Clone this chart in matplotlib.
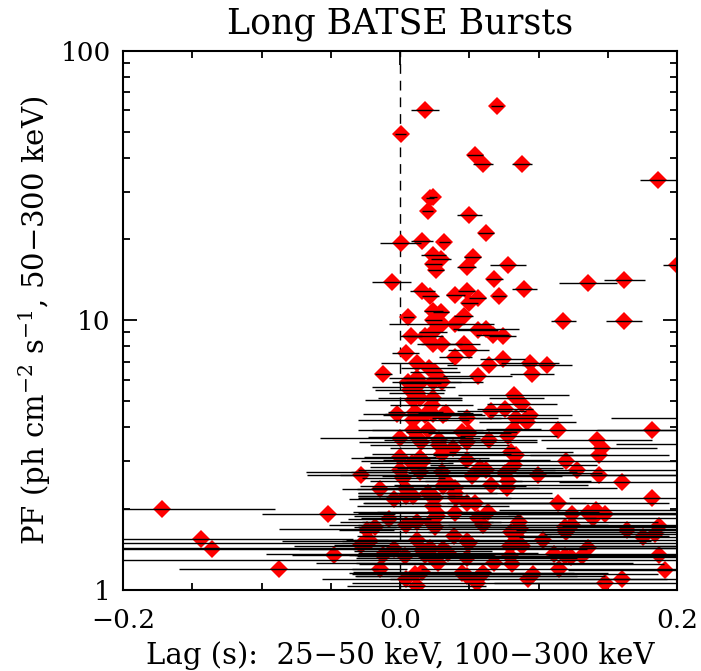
import matplotlib
matplotlib.use("Agg")
import matplotlib.pyplot as plt
from matplotlib.ticker import FixedLocator, LogLocator, NullFormatter

# Spectral lag (s) between 25-50 keV and 100-300 keV, its 1-sigma error,
# and the 50-300 keV peak flux (ph cm^-2 s^-1) for long BATSE bursts.
lag = [
    0.018, 0.070, 0.0005, 0.054, 0.060, 0.088, 0.186, 0.0217, 0.024, 0.020,
    0.050, 0.062, 0.0005, 0.016, 0.032, 0.024, 0.0296, 0.024, 0.026, 0.0525,
    0.048, 0.078, 0.200, -0.006, 0.016, 0.022, 0.040, 0.048, 0.056, 0.050,
    0.068, 0.0717, 0.0898, 0.136, 0.162, 0.118, 0.162, 0.006, 0.024, 0.0296,
    0.024, 0.030, 0.040, 0.046, 0.024, 0.008, 0.018, 0.056, 0.062, 0.067,
    0.074, 0.024, 0.030, 0.046, 0.0495, 0.004, 0.040, 0.074, 0.012, 0.064,
    0.094, 0.106, -0.012, 0.021, 0.025, 0.028, 0.024, 0.030, 0.056, 0.0955,
    0.006, 0.012, 0.0144, 0.0096, 0.0072, 0.012, 0.0144, 0.0096, 0.024, 0.023,
    0.082, 0.084, 0.088, 0.066, 0.0758, 0.094, 0.092, 0.084, -0.002, 0.011,
    0.0096, 0.024, 0.031, 0.033, 0.048, 0.114, 0.182, 0.082, 0.078, 0.0445,
    0.050, 0.0486, 0.0096, 0.012, 0.0155, 0.000, 0.0284, 0.0285, 0.038, 0.064,
    0.142, 0.1455, 0.144, 0.080, 0.0837, 0.030, 0.048, 0.000, 0.0144, 0.0084,
    0.0132, 0.082, 0.1195, 0.128, 0.1436, 0.160, 0.0999, 0.0578, 0.062, 0.0755,
    0.078, 0.077, 0.066, 0.0518, 0.000, 0.0024, 0.030, 0.033, 0.031, 0.040,
    0.0395, -0.0148, -0.004, 0.004, 0.0045, 0.0096, 0.020, 0.025, 0.0405, 0.048,
    0.054, 0.114, 0.182, 0.024, 0.026, 0.027, 0.0226, 0.025, 0.040, 0.0637,
    0.0565, 0.060, -0.0077, 0.004, 0.012, 0.124, 0.1244, 0.136, 0.1415, 0.1477,
    0.1393, 0.086, 0.0863, 0.0803, 0.084, 0.120, 0.119, 0.1637, 0.1757, 0.1838,
    0.187, 0.039, 0.048, 0.050, 0.012, 0.1035, 0.136, -0.004, -0.012, 0.0036,
    0.0165, 0.0215, 0.031, 0.0346, 0.0275, 0.025, 0.048, 0.0794, 0.088, 0.0794,
    0.0805, 0.068, 0.1115, 0.1188, 0.1236, 0.1316, 0.187, 0.115, 0.1915, -0.0148,
    0.016, 0.0445, 0.048, 0.0577, 0.060, 0.0553, 0.0927, 0.0963, 0.004, 0.012,
    0.148, 0.160, 0.0105, -0.0285, -0.0518, -0.018, -0.024, -0.0217, -0.028, -0.024,
    -0.048, -0.172, -0.144, -0.136, -0.0876, 0.0144, 0.0167, 0.0177, 0.020, 0.0177,
    0.240, 0.230,
]

lag_err = [
    0.010, 0.004, 0.004, 0.006, 0.007, 0.007, 0.013, 0.003, 0.003, 0.004,
    0.009, 0.006, 0.015, 0.008, 0.004, 0.009, 0.007, 0.006, 0.006, 0.006,
    0.007, 0.013, 0.010, 0.014, 0.009, 0.006, 0.007, 0.006, 0.006, 0.006,
    0.006, 0.005, 0.009, 0.021, 0.015, 0.009, 0.013, 0.004, 0.007, 0.006,
    0.006, 0.038, 0.006, 0.007, 0.010, 0.008, 0.013, 0.015, 0.024, 0.012,
    0.010, 0.012, 0.015, 0.012, 0.015, 0.010, 0.012, 0.016, 0.026, 0.030,
    0.021, 0.018, 0.006, 0.020, 0.018, 0.025, 0.020, 0.030, 0.025, 0.016,
    0.012, 0.020, 0.015, 0.030, 0.025, 0.020, 0.030, 0.035, 0.020, 0.030,
    0.040, 0.020, 0.025, 0.025, 0.020, 0.030, 0.035, 0.030, 0.025, 0.020,
    0.040, 0.035, 0.030, 0.020, 0.025, 0.100, 0.040, 0.020, 0.035, 0.040,
    0.030, 0.050, 0.040, 0.035, 0.045, 0.058, 0.040, 0.050, 0.045, 0.035,
    0.040, 0.040, 0.050, 0.045, 0.060, 0.050, 0.060, 0.026, 0.050, 0.030,
    0.035, 0.060, 0.085, 0.075, 0.060, 0.045, 0.143, 0.060, 0.050, 0.070,
    0.060, 0.080, 0.070, 0.065, 0.030, 0.030, 0.098, 0.055, 0.060, 0.060,
    0.070, 0.027, 0.033, 0.035, 0.035, 0.040, 0.050, 0.055, 0.070, 0.075,
    0.080, 0.080, 0.060, 0.055, 0.060, 0.060, 0.050, 0.055, 0.070, 0.080,
    0.085, 0.090, 0.030, 0.055, 0.055, 0.080, 0.090, 0.080, 0.070, 0.070,
    0.080, 0.100, 0.174, 0.110, 0.110, 0.100, 0.090, 0.080, 0.090, 0.080,
    0.070, 0.070, 0.133, 0.260, 0.045, 0.120, 0.100, 0.030, 0.025, 0.035,
    0.050, 0.230, 0.104, 0.065, 0.088, 0.230, 0.080, 0.156, 0.120, 0.110,
    0.110, 0.100, 0.208, 0.100, 0.110, 0.100, 0.080, 0.100, 0.070, 0.020,
    0.050, 0.081, 0.080, 0.090, 0.090, 0.090, 0.100, 0.090, 0.060, 0.050,
    0.080, 0.070, 0.045, 0.039, 0.048, 0.015, 0.020, 0.020, 0.020, 0.015,
    0.030, 0.082, 0.110, 0.090, 0.072, 0.050, 0.045, 0.030, 0.040, 0.050,
    0.088, 0.074,
]

peak_flux = [
    60.4, 62.2, 49.1, 40.9, 38.0, 38.0, 33.0, 28.5, 28.6, 25.4,
    24.5, 21.1, 19.3, 19.7, 19.5, 17.4, 16.8, 16.1, 15.3, 17.1,
    15.8, 16.0, 16.0, 13.8, 12.8, 12.3, 12.4, 12.8, 12.1, 11.6,
    14.2, 12.3, 13.1, 13.7, 14.1, 9.9, 9.9, 10.3, 10.8, 10.7,
    10.0, 9.7, 9.7, 10.4, 9.06, 8.7, 8.7, 9.2, 9.3, 8.8,
    8.7, 8.15, 8.15, 8.15, 7.75, 7.57, 7.31, 7.15, 6.95, 6.81,
    6.95, 6.81, 6.29, 6.63, 6.44, 6.08, 5.91, 5.91, 6.2, 6.29,
    5.91, 6.08, 5.83, 5.66, 5.49, 5.35, 5.13, 5.06, 5.13, 4.84,
    5.28, 5.13, 4.89, 4.61, 4.67, 4.45, 4.2, 4.32, 4.49, 4.57,
    4.26, 4.49, 4.45, 4.52, 4.32, 3.91, 3.90, 3.93, 3.72, 3.86,
    3.81, 3.54, 3.91, 3.69, 3.54, 3.65, 3.59, 3.44, 3.35, 3.59,
    3.59, 3.35, 3.16, 3.25, 3.16, 3.19, 3.03, 3.10, 3.07, 2.94,
    2.86, 2.90, 3.0, 2.77, 2.67, 2.5, 2.67, 2.82, 2.79, 2.7,
    2.52, 2.38, 2.45, 2.64, 2.78, 2.59, 2.74, 2.52, 2.43, 2.38,
    2.28, 2.36, 2.17, 2.36, 2.22, 2.22, 2.28, 2.19, 2.19, 2.09,
    2.09, 2.10, 2.19, 2.04, 1.95, 1.87, 1.78, 1.71, 1.92, 1.95,
    1.84, 1.74, 1.83, 1.74, 1.79, 1.91, 1.74, 1.92, 1.98, 1.91,
    1.84, 1.78, 1.68, 1.64, 1.58, 1.64, 1.71, 1.66, 1.57, 1.61,
    1.73, 1.58, 1.52, 1.49, 1.53, 1.53, 1.43, 1.41, 1.35, 1.33,
    1.39, 1.43, 1.41, 1.37, 1.26, 1.29, 1.31, 1.45, 1.45, 1.33,
    1.24, 1.26, 1.36, 1.33, 1.32, 1.33, 1.34, 1.19, 1.18, 1.19,
    1.16, 1.15, 1.12, 1.12, 1.15, 1.06, 1.10, 1.14, 1.10, 1.03,
    1.06, 1.10, 1.14, 2.67, 1.91, 1.71, 1.66, 1.51, 1.47, 1.53,
    1.35, 2.0, 1.54, 1.42, 1.19, 2.74, 2.99, 4.45, 3.91, 1.35,
    4.33, 3.46,
]

x_ticks = [-0.2, 0.0, 0.2]
x_tick_labels = ["\u22120.2", "0.0", "0.2"]
x_minor_ticks = [-0.15, -0.1, -0.05, 0.05, 0.1, 0.15]
y_ticks = [1, 10, 100]
y_tick_labels = ["1", "10", "100"]

plt.rcParams["font.family"] = ["DejaVu Serif"]
plt.rcParams["mathtext.fontset"] = "dejavuserif"

fig = plt.figure(figsize=(7.01, 6.71), dpi=100)
ax = fig.add_axes([0.1755, 0.1212, 0.7903, 0.8033])
ax.set_yscale("log")
ax.set_xlim(-0.2, 0.2)
ax.set_ylim(1, 100)

# zero-lag reference line
ax.axvline(0.0, color="black", lw=1.0, ls=(0, (7, 5)), zorder=1)

ax.plot(lag, peak_flux, "D", color="red", ms=8.8, mew=0, zorder=2)
ax.errorbar(lag, peak_flux, xerr=lag_err, fmt="none", ecolor="black",
            elinewidth=1.0, capsize=0, zorder=3)

ax.set_xticks(x_ticks)
ax.set_xticklabels(x_tick_labels)
ax.xaxis.set_minor_locator(FixedLocator(x_minor_ticks))
ax.set_yticks(y_ticks)
ax.set_yticklabels(y_tick_labels)
ax.yaxis.set_minor_locator(LogLocator(base=10, subs=range(2, 10)))
ax.yaxis.set_minor_formatter(NullFormatter())

ax.tick_params(which="both", direction="in", top=True, right=True,
               width=1.3, labelsize=19, colors="black")
ax.tick_params(which="major", length=10)
ax.tick_params(which="minor", length=5)
ax.tick_params(axis="x", pad=13)
ax.tick_params(axis="y", pad=9)
for sp in ax.spines.values():
    sp.set_linewidth(1.5)

ax.set_title("Long BATSE Bursts", fontsize=25, pad=12)
ax.set_xlabel("Lag (s):  25\u221250 keV, 100\u2212300 keV", fontsize=21)
ax.xaxis.set_label_coords(0.5, -0.095)
ax.set_ylabel(r"PF (ph cm$^{-2}$ s$^{-1}$, 50$-$300 keV)", fontsize=21, labelpad=5)

fig.savefig("out.png", dpi=100)
